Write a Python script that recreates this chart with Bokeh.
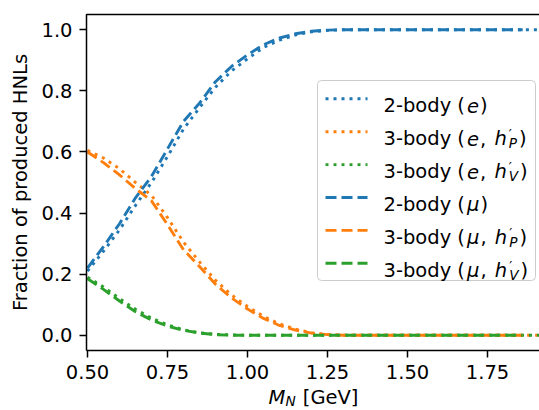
from bokeh.plotting import figure
from bokeh.models import Range1d, FixedTicker, Label, BoxAnnotation, NumeralTickFormatter
from bokeh.embed import file_html
from bokeh.resources import INLINE

# ---------------- data ----------------
mass_e = [0.50, 0.55, 0.60, 0.65, 0.70, 0.75, 0.80, 0.85, 0.90, 0.95, 1.00, 1.05,
          1.10, 1.15, 1.20, 1.25, 1.30, 1.40, 1.50, 1.60, 1.70, 1.80, 1.90, 1.97]
two_body_e = [0.21, 0.275, 0.345, 0.425, 0.50, 0.585, 0.675, 0.745, 0.812, 0.865, 0.905, 0.942,
              0.966, 0.983, 0.993, 0.998, 1.0, 1.0, 1.0, 1.0, 1.0, 1.0, 1.0, 1.0]
three_body_e_P = [0.605, 0.58, 0.545, 0.50, 0.458, 0.385, 0.305, 0.24, 0.18, 0.132, 0.094, 0.062,
                  0.037, 0.02, 0.008, 0.002, 0.0, 0.0, 0.0, 0.0, 0.0, 0.0, 0.0, 0.0]
three_body_e_V = [0.19, 0.158, 0.12, 0.085, 0.056, 0.034, 0.018, 0.008, 0.003, 0.001, 0.0, 0.0,
                  0.0, 0.0, 0.0, 0.0, 0.0, 0.0, 0.0, 0.0, 0.0, 0.0, 0.0, 0.0]

mass_mu = [0.50, 0.55, 0.60, 0.65, 0.70, 0.75, 0.80, 0.85, 0.90, 0.95, 1.00, 1.05,
           1.10, 1.15, 1.20, 1.25, 1.30, 1.40, 1.50, 1.60, 1.70, 1.80, 1.86]
two_body_mu = [0.22, 0.29, 0.365, 0.45, 0.52, 0.61, 0.70, 0.76, 0.83, 0.88, 0.918, 0.951,
               0.973, 0.987, 0.995, 0.999, 1.0, 1.0, 1.0, 1.0, 1.0, 1.0, 1.0]
three_body_mu_P = [0.60, 0.565, 0.525, 0.48, 0.44, 0.362, 0.28, 0.225, 0.167, 0.122, 0.086, 0.055,
                   0.032, 0.017, 0.007, 0.002, 0.0, 0.0, 0.0, 0.0, 0.0, 0.0, 0.0]
three_body_mu_V = [0.185, 0.15, 0.112, 0.077, 0.05, 0.03, 0.016, 0.007, 0.002, 0.0, 0.0, 0.0,
                   0.0, 0.0, 0.0, 0.0, 0.0, 0.0, 0.0, 0.0, 0.0, 0.0, 0.0]

x_ticks = [0.50, 0.75, 1.00, 1.25, 1.50, 1.75]
y_ticks = [0.0, 0.2, 0.4, 0.6, 0.8, 1.0]

y_label = "Fraction of produced HNLs"

BLUE, ORANGE, GREEN = "#1f77b4", "#ff7f0e", "#2ca02c"

# ---------------- layout ----------------
FONT = "DejaVu Sans"
FS = 19.5
X_START, X_END = 0.496875, 1.9125          # visible x span of the axes box
Y_AXIS_LO, Y_AXIS_HI = -0.05, 1.05          # visible y span of the axes box
W, H = 539, 410
AX_LEFT_PX = 86                             # axes box left (page px)
AX_TOP_PX, AX_BOTTOM_PX = 14, 350           # axes box top / bottom (page px)
PX_PER_X = (W - AX_LEFT_PX) / (X_END - X_START)
PX_PER_Y = (AX_BOTTOM_PX - AX_TOP_PX) / (Y_AXIS_HI - Y_AXIS_LO)
X_FRAME_LO = X_START - AX_LEFT_PX / PX_PER_X
X_FRAME_HI = X_FRAME_LO + W / PX_PER_X
Y_FRAME_HI = Y_AXIS_HI + AX_TOP_PX / PX_PER_Y
Y_FRAME_LO = Y_FRAME_HI - H / PX_PER_Y


def px2x(px):
    return X_FRAME_LO + px / PX_PER_X


def py2y(py):
    return Y_FRAME_HI - py / PX_PER_Y


p = figure(width=W, height=H, x_range=Range1d(X_FRAME_LO, X_FRAME_HI), y_range=Range1d(Y_FRAME_LO, Y_FRAME_HI),
           output_backend="svg", toolbar_location=None,
           min_border_left=0, min_border_right=0, min_border_top=0, min_border_bottom=0)
p.outline_line_color = None
p.xgrid.visible = False
p.ygrid.visible = False
p.background_fill_color = "white"
p.border_fill_color = "white"

for ax in (p.xaxis[0], p.yaxis[0]):
    ax.axis_line_width = 1.5
    ax.axis_line_color = "black"
    ax.major_tick_line_width = 1.5
    ax.major_tick_line_color = "black"
    ax.major_tick_in = 0
    ax.major_tick_out = 7
    ax.minor_tick_in = 0
    ax.minor_tick_out = 0
    ax.major_label_standoff = 7
    ax.major_label_text_font = FONT
    ax.major_label_text_font_size = f"{FS}px"
    ax.major_label_text_color = "black"

p.xaxis.ticker = FixedTicker(ticks=x_ticks)
p.xaxis.formatter = NumeralTickFormatter(format="0.00")
p.xaxis.fixed_location = Y_AXIS_LO
p.xaxis.bounds = (X_START, X_END)
p.yaxis.ticker = FixedTicker(ticks=y_ticks)
p.yaxis.formatter = NumeralTickFormatter(format="0.0")
p.yaxis.fixed_location = X_START
p.yaxis.bounds = (Y_AXIS_LO, Y_AXIS_HI)
p.yaxis.axis_label = y_label
p.yaxis.axis_label_text_font = FONT
p.yaxis.axis_label_text_font_size = f"{FS}px"
p.yaxis.axis_label_text_font_style = "normal"
p.yaxis.axis_label_text_color = "black"
p.yaxis.axis_label_standoff = 6

# top spine (a flat box edge from the y axis to the right border)
p.add_layout(BoxAnnotation(left=X_START, right=X_END, top=Y_AXIS_HI, bottom=Y_AXIS_HI - 0.0001,
                           fill_color=None, line_color="black", line_alpha=1.0, line_width=1.5))

LW = 2.9
DOT = "3 5"
DASH = "11 5"
series = [
    (mass_e, two_body_e, BLUE, DOT),
    (mass_e, three_body_e_P, ORANGE, DOT),
    (mass_e, three_body_e_V, GREEN, DOT),
    (mass_mu, two_body_mu, BLUE, DASH),
    (mass_mu, three_body_mu_P, ORANGE, DASH),
    (mass_mu, three_body_mu_V, GREEN, DASH),
]
for xs, ys, col, dash in series:
    p.line(xs, ys, line_color=col, line_width=LW, line_dash=dash)

# ---------------- rich text helpers ----------------
WIDTHS = {'2': .636, '3': .636, '-': .361, 'b': .635, 'o': .612, 'd': .635, 'y': .592, ' ': .318,
          '(': .390, ')': .390, ',': .318, 'e': .615, 'h': .634, 'μ': .636, 'P': .603, 'V': .684,
          'M': .863, 'N': .748, '[': .390, ']': .390, 'G': .775, '′': .30}
SPACE = WIDTHS[' '] * FS


def tw(s, size):
    return sum(WIDTHS.get(c, 0.6) for c in s) * size


def rich(x_px, base_px, pieces):
    x = x_px
    for text, style, scale, dy, advance, pad_l, pad_r in pieces:
        size = FS * scale
        x += pad_l
        p.add_layout(Label(x=px2x(x), y=py2y(base_px + dy), text=text, text_font=FONT,
                           text_font_size=f"{size:.2f}px", text_font_style=style,
                           text_color="black", text_baseline="alphabetic", text_align="left"))
        if advance:
            x += tw(text, size) + pad_r
    return x


def N_(t, pad_l=0, pad_r=0):
    return (t, "normal", 1.0, 0, True, pad_l, pad_r)


def I_(t):
    return (t, "italic", 1.0, 0, True, 2, 1)


def SUP(t):
    return (t, "normal", 0.7, -4.5, False, 1, 0)


def SUB(t):
    return (t, "italic", 0.7, 4.5, True, 0, 2)


legend_rows = [
    (BLUE, DOT, [N_("2-body ("), I_("e"), N_(")")]),
    (ORANGE, DOT, [N_("3-body ("), I_("e"), N_(",", 0, SPACE), I_("h"), SUP("′"), SUB("P"), N_(")")]),
    (GREEN, DOT, [N_("3-body ("), I_("e"), N_(",", 0, SPACE), I_("h"), SUP("′"), SUB("V"), N_(")")]),
    (BLUE, DASH, [N_("2-body ("), I_("μ"), N_(")")]),
    (ORANGE, DASH, [N_("3-body ("), I_("μ"), N_(",", 0, SPACE), I_("h"), SUP("′"), SUB("P"), N_(")")]),
    (GREEN, DASH, [N_("3-body ("), I_("μ"), N_(",", 0, SPACE), I_("h"), SUP("′"), SUB("V"), N_(")")]),
]

# legend frame
LEG_L, LEG_R, LEG_T, LEG_B = 317, 535, 80, 280
p.add_layout(BoxAnnotation(left=px2x(LEG_L), right=px2x(LEG_R), top=py2y(LEG_T), bottom=py2y(LEG_B),
                           fill_color="white", fill_alpha=0.8, line_color="#cccccc", line_alpha=1.0,
                           line_width=1, border_radius=4))
ROW0, ROW_STEP = 98.3, 32.9
SAMPLE_L, SAMPLE_R, TEXT_L = 325, 367, 383
for i, (col, dash, pieces) in enumerate(legend_rows):
    cy = ROW0 + i * ROW_STEP
    r = p.line([px2x(SAMPLE_L), px2x(SAMPLE_R)], [py2y(cy), py2y(cy)], line_color=col,
               line_width=LW, line_dash=dash)
    r.level = "overlay"
    rich(TEXT_L, cy + 7.0, pieces)

# x-axis label  M_N [GeV]
xl_pieces = [("M", "italic", 1.0, 0, True, 0, 0), ("N", "italic", 0.7, 3.5, True, 0, 1),
             N_("[GeV]", SPACE, 0)]
total = sum(tw(t[0], FS * t[2]) + t[5] + t[6] for t in xl_pieces)
center_px = (AX_LEFT_PX + 540) / 2
rich(center_px - total / 2, 397, xl_pieces)

open("out.html", "w").write(file_html(p, INLINE))
